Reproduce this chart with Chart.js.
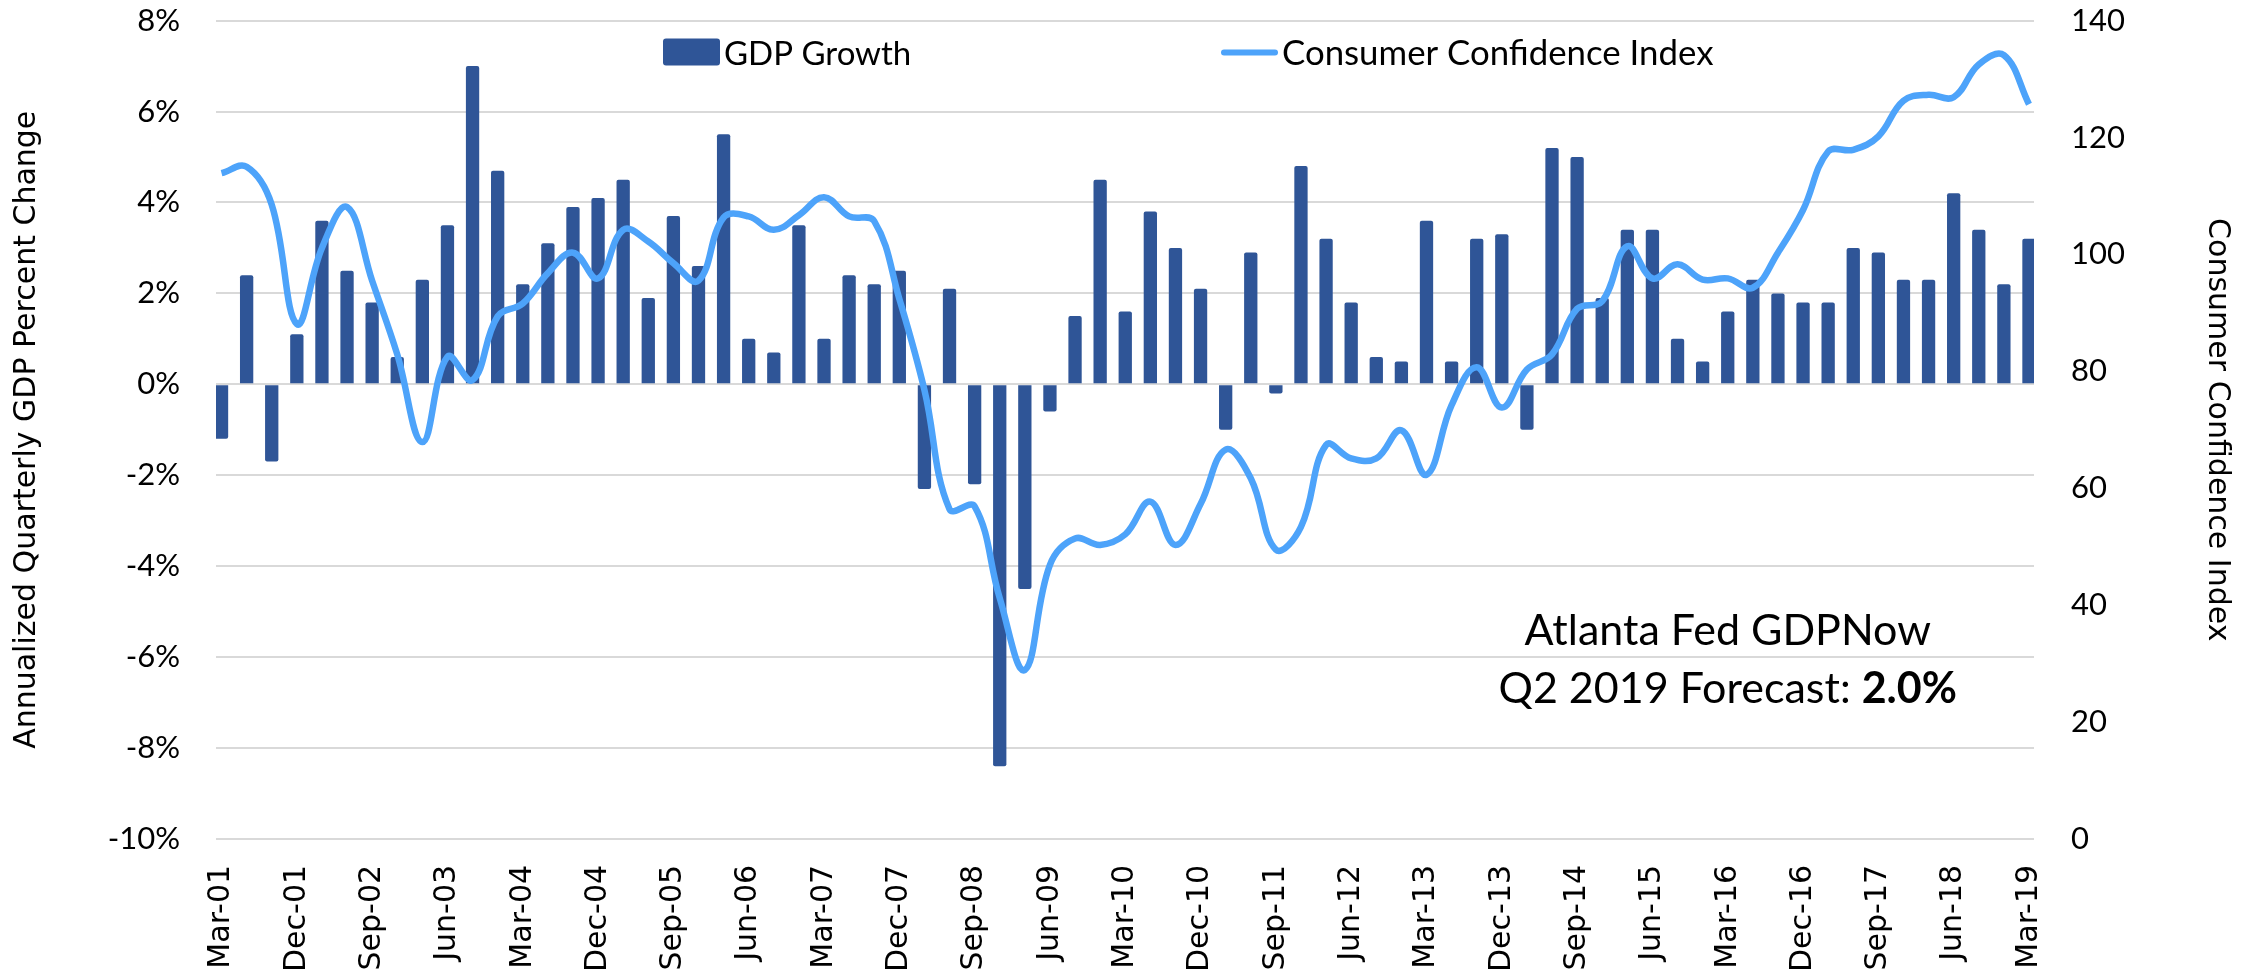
<!DOCTYPE html>
<html>
<head>
<meta charset="utf-8">
<script src="https://cdn.jsdelivr.net/npm/chart.js@4.4.1/dist/chart.umd.min.js"></script>
<style>
  html, body { margin: 0; padding: 0; background: #fff; }
  canvas { display: block; }
</style>
</head>
<body>
<canvas id="myChart" width="2259" height="977"></canvas>
<script>
const quarters = [
  'Mar-01', 'Jun-01', 'Sep-01', 'Dec-01', 'Mar-02', 'Jun-02', 'Sep-02', 'Dec-02',
  'Mar-03', 'Jun-03', 'Sep-03', 'Dec-03', 'Mar-04', 'Jun-04', 'Sep-04', 'Dec-04',
  'Mar-05', 'Jun-05', 'Sep-05', 'Dec-05', 'Mar-06', 'Jun-06', 'Sep-06', 'Dec-06',
  'Mar-07', 'Jun-07', 'Sep-07', 'Dec-07', 'Mar-08', 'Jun-08', 'Sep-08', 'Dec-08',
  'Mar-09', 'Jun-09', 'Sep-09', 'Dec-09', 'Mar-10', 'Jun-10', 'Sep-10', 'Dec-10',
  'Mar-11', 'Jun-11', 'Sep-11', 'Dec-11', 'Mar-12', 'Jun-12', 'Sep-12', 'Dec-12',
  'Mar-13', 'Jun-13', 'Sep-13', 'Dec-13', 'Mar-14', 'Jun-14', 'Sep-14', 'Dec-14',
  'Mar-15', 'Jun-15', 'Sep-15', 'Dec-15', 'Mar-16', 'Jun-16', 'Sep-16', 'Dec-16',
  'Mar-17', 'Jun-17', 'Sep-17', 'Dec-17', 'Mar-18', 'Jun-18', 'Sep-18', 'Dec-18',
  'Mar-19'
];

// annualized quarterly GDP change, %
const gdpGrowth = [
  -1.2, 2.4, -1.7, 1.1,
  3.6, 2.5, 1.8, 0.6,
  2.3, 3.5, 7.0, 4.7,
  2.2, 3.1, 3.9, 4.1,
  4.5, 1.9, 3.7, 2.6,
  5.5, 1.0, 0.7, 3.5,
  1.0, 2.4, 2.2, 2.5,
  -2.3, 2.1, -2.2, -8.4,
  -4.5, -0.6, 1.5, 4.5,
  1.6, 3.8, 3.0, 2.1,
  -1.0, 2.9, -0.2, 4.8,
  3.2, 1.8, 0.6, 0.5,
  3.6, 0.5, 3.2, 3.3,
  -1.0, 5.2, 5.0, 1.9,
  3.4, 3.4, 1.0, 0.5,
  1.6, 2.3, 2.0, 1.8,
  1.8, 3.0, 2.9, 2.3,
  2.3, 4.2, 3.4, 2.2,
  3.2
];

const consumerConfidence = [
  113.9, 115.0, 108.5, 88.1, 101.1, 108.1, 95.5, 82.9, 67.9, 82.5,
  78.5, 89.4, 91.6, 96.8, 100.3, 95.9, 104.2, 102.2, 98.5, 95.5,
  106.3, 106.5, 104.2, 106.7, 109.8, 106.5, 105.7, 92.4, 76.8, 56.4,
  56.9, 41.2, 28.9, 46.9, 51.4, 50.3, 52.1, 57.7, 50.3, 57.3,
  66.6, 61.7, 49.5, 53.4, 67.4, 65.1, 65.1, 69.9, 62.3, 74.2,
  80.7, 73.8, 80.3, 82.9, 90.7, 92.0, 101.4, 95.9, 98.3, 95.7,
  95.9, 94.3, 100.3, 107.6, 117.6, 117.9, 120.2, 126.3, 127.3, 126.9,
  132.5, 134.1, 125.7
];

const noteLines = ['Atlanta Fed GDPNow', 'Q2 2019 Forecast: '];
const noteForecast = '2.0%';

const barColor = '#2F5597';
const lineColor = '#4DA3FA';

// legend drawn inside the plot area + the GDPNow note
const extras = {
  id: 'extras',
  afterDraw(chart) {
    const { ctx, chartArea: a, scales } = chart;
    const sets = chart.data.datasets;
    ctx.save();
    ctx.textBaseline = 'alphabetic';
    ctx.textAlign = 'left';

    let lx = a.left + 447;
    ctx.fillStyle = barColor;
    ctx.beginPath();
    ctx.roundRect(lx, a.top + 18, 57, 27, 3);
    ctx.fill();
    ctx.fillStyle = '#000';
    ctx.font = '33px Lato';
    ctx.fillText(sets[1].label, lx + 61, a.top + 44);

    lx = a.left + 1005;
    ctx.strokeStyle = lineColor;
    ctx.lineWidth = 6;
    ctx.lineCap = 'round';
    ctx.beginPath();
    ctx.moveTo(lx + 3, a.top + 32);
    ctx.lineTo(lx + 54, a.top + 32);
    ctx.stroke();
    ctx.font = '34.8px Lato';
    ctx.fillText(sets[0].label, lx + 61, a.top + 44);

    const cx = scales.x.getPixelForValue(60);
    ctx.font = '43px Lato';
    ctx.textAlign = 'center';
    ctx.fillText(noteLines[0], cx, scales.y.getPixelForValue(-5.74));

    const y2 = scales.y.getPixelForValue(-7.02);
    const w1 = ctx.measureText(noteLines[1]).width;
    ctx.font = 'bold 43px Lato';
    const w2 = ctx.measureText(noteForecast).width;
    const x0 = cx - (w1 + w2) / 2;
    ctx.textAlign = 'left';
    ctx.font = '43px Lato';
    ctx.fillText(noteLines[1], x0, y2);
    ctx.font = 'bold 43px Lato';
    ctx.fillText(noteForecast, x0 + w1, y2);
    ctx.restore();
  }
};

const ctx = document.getElementById('myChart').getContext('2d');
const myChart = new Chart(ctx, {
  type: 'bar',
  data: {
    datasets: [
      {
        type: 'line',
        label: 'Consumer Confidence Index',
        data: consumerConfidence.map((v, i) => ({ x: i, y: v })),
        yAxisID: 'y1',
        borderColor: lineColor,
        borderWidth: 6.5,
        pointRadius: 0,
        tension: 0.4,
        fill: false,
        order: 0,
      },
      {
        type: 'bar',
        label: 'GDP Growth',
        data: gdpGrowth.map((v, i) => ({ x: i, y: v })),
        yAxisID: 'y',
        backgroundColor: barColor,
        categoryPercentage: 1,
        barPercentage: 0.53,
        borderRadius: 2,
        order: 1,
      },
    ],
  },
  options: {
    responsive: false,
    animation: false,
    devicePixelRatio: 1,
    layout: { padding: { top: 3, right: 0, bottom: 3, left: 0 } },
    plugins: {
      legend: { display: false },
      tooltip: { enabled: false },
    },
    scales: {
      x: {
        type: 'linear',
        min: -0.22,
        max: 72.2,
        offset: false,
        grid: { display: true, drawOnChartArea: false, tickColor: 'transparent', tickLength: 24, offset: false },
        border: { display: false },
        afterBuildTicks: (axis) => {
          axis.ticks = quarters.map((q, i) => ({ value: i })).filter((t) => t.value % 3 === 0);
        },
        ticks: {
          autoSkip: false,
          maxRotation: 90,
          minRotation: 90,
          padding: 2,
          color: '#000',
          font: { family: 'DejaVu Sans', size: 30 },
          callback: (v) => quarters[v],
        },
      },
      y: {
        position: 'left',
        min: -10,
        max: 8,
        afterFit: (scale) => { scale.width = 216; },
        grid: { color: '#D9D9D9', lineWidth: 2, tickColor: 'transparent', tickLength: 34 },
        border: { display: false },
        ticks: {
          stepSize: 2,
          padding: 2,
          color: '#000',
          font: { family: 'Lato', size: 31 },
          callback: (v) => v + '%',
        },
        title: {
          display: true,
          text: 'Annualized Quarterly GDP Percent Change',
          color: '#000',
          font: { family: 'DejaVu Sans', size: 30 },
          padding: { top: 9, bottom: 20 },
        },
      },
      y1: {
        position: 'right',
        min: 0,
        max: 140,
        afterFit: (scale) => { scale.width = 225; },
        grid: { display: true, drawOnChartArea: false, tickColor: 'transparent', tickLength: 35 },
        border: { display: false },
        ticks: {
          stepSize: 20,
          padding: 2,
          color: '#000',
          font: { family: 'Lato', size: 31 },
        },
        title: {
          display: true,
          text: 'Consumer Confidence Index',
          color: '#000',
          font: { family: 'DejaVu Sans', size: 30 },
          padding: { top: 24, bottom: 20 },
        },
      },
    },
  },
  plugins: [extras],
});
</script>
</body>
</html>
